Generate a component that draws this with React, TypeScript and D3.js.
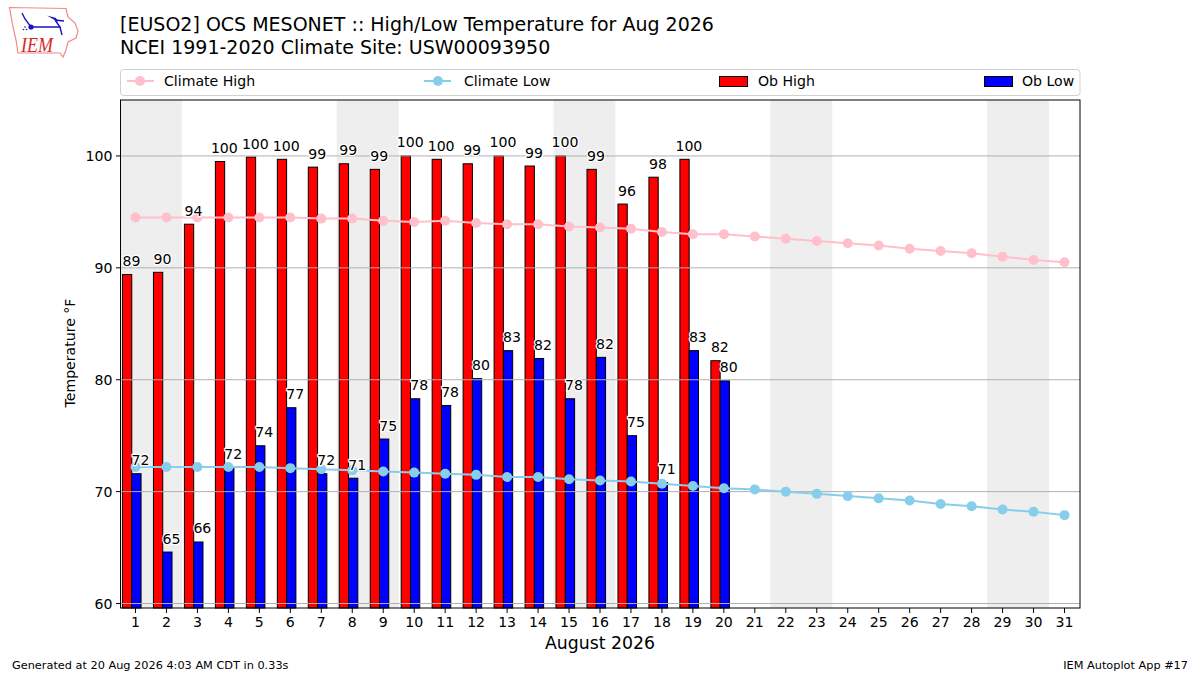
import * as d3 from 'd3';

const DAYS = d3.range(1, 32);
const OB_HIGH = [89.4, 89.6, 93.9, 99.5, 99.9, 99.7, 99.0, 99.3, 98.8, 100.0, 99.7, 99.3, 100.0, 99.1, 100.0, 98.8, 95.7, 98.1, 99.7, 81.7];
const OB_LOW = [71.6, 64.6, 65.5, 72.2, 74.1, 77.5, 71.6, 71.2, 74.7, 78.3, 77.7, 80.1, 82.6, 81.9, 78.3, 82.0, 75.0, 70.8, 82.6, 79.9];
const HIGH_LABELS = [89, 90, 94, 100, 100, 100, 99, 99, 99, 100, 100, 99, 100, 99, 100, 99, 96, 98, 100, 82];
const LOW_LABELS = [72, 65, 66, 72, 74, 77, 72, 71, 75, 78, 78, 80, 83, 82, 78, 82, 75, 71, 83, 80];
const CLIMATE_HIGH = [94.5, 94.5, 94.5, 94.5, 94.5, 94.5, 94.4, 94.4, 94.2, 94.1, 94.2, 94.0, 93.9, 93.9, 93.7, 93.6, 93.5, 93.2, 93.0, 93.0, 92.8, 92.6, 92.4, 92.2, 92.0, 91.7, 91.5, 91.3, 91.0, 90.7, 90.5];
const CLIMATE_LOW = [72.2, 72.2, 72.2, 72.2, 72.2, 72.1, 72.0, 71.9, 71.8, 71.7, 71.6, 71.5, 71.3, 71.3, 71.1, 71.0, 70.9, 70.7, 70.5, 70.3, 70.2, 70.0, 69.8, 69.6, 69.4, 69.2, 68.9, 68.7, 68.4, 68.2, 67.9];
const WEEKENDS = [[0.5, 2.5], [7.5, 9.5], [14.5, 16.5], [21.5, 23.5], [28.5, 30.5]];
const Y_TICKS = [60, 70, 80, 90, 100];

const FONT = '"DejaVu Sans", sans-serif';
const TXT = 14.1;

export default function App() {
  const left = 120.5, right = 1080, top = 100, bottom = 608;
  const x = d3.scaleLinear().domain([0.5, 31.5]).range([left - 0.5, right]);
  const y = d3.scaleLinear().domain([59.6, 105]).range([bottom, top]);
  const barW = x(1.3) - x(1);
  const line = d3.line<number>().x((_, i) => x(DAYS[i])).y(d => y(d));

  return (
    <svg width={1200} height={675} style={{ position: 'absolute', left: 0, top: 0 }} fontFamily={FONT}>
      <rect width={1200} height={675} fill="white" />

      {/* IEM logo */}
      <path d="M9.5 7.5 L66 8.5 L68 17 L75 23 L78 31 L76 38 L68 42 L66 50 L63 57 L60 53 L18 53 L16 40 L13 27 Z" fill="white" stroke="#f08a8a" strokeWidth={1.2} />
      <path d="M22 13 L25 19 L31 27 L60 27 L55 20 M55 20 L64 21 M60 27 L62 35" fill="none" stroke="#1414c8" strokeWidth={1.4} />
      <path d="M47 15.5 L56 18 L58 22 Z" fill="#1414c8" />
      <circle cx={31} cy={27} r={2.6} fill="#1414c8" />
      <circle cx={25} cy={27} r={0.8} fill="#1414c8" />
      <circle cx={23.5} cy={29.5} r={0.8} fill="#1414c8" />
      <circle cx={26.5} cy={29.5} r={0.8} fill="#1414c8" />
      <text x={21} y={52} fontSize={21} textLength={32} lengthAdjust="spacingAndGlyphs" fontFamily='"Liberation Serif", serif' fontStyle="italic" fill="#d42a2a">IEM</text>

      {/* Title */}
      <text x={120} y={31} fontSize={19} fill="black">[EUSO2] OCS MESONET :: High/Low Temperature for Aug 2026</text>
      <text x={120} y={54} fontSize={19} fill="black">NCEI 1991-2020 Climate Site: USW00093950</text>

      {/* Legend */}
      <rect x={120.5} y={69.5} width={959.5} height={26} rx={3} fill="white" stroke="#d0d0d0" />
      <line x1={127} x2={154} y1={81} y2={81} stroke="pink" strokeWidth={2} />
      <circle cx={140} cy={81} r={5} fill="pink" />
      <text x={164} y={86} fontSize={TXT}>Climate High</text>
      <line x1={424} x2={451} y1={81} y2={81} stroke="skyblue" strokeWidth={2} />
      <circle cx={438} cy={81} r={5} fill="skyblue" />
      <text x={464} y={86} fontSize={TXT}>Climate Low</text>
      <rect x={719.5} y={76.5} width={28} height={10} fill="red" stroke="black" />
      <text x={758} y={86} fontSize={TXT}>Ob High</text>
      <rect x={984.5} y={76.5} width={28} height={10} fill="blue" stroke="black" />
      <text x={1022} y={86} fontSize={TXT}>Ob Low</text>

      {/* Weekend shading */}
      {WEEKENDS.map(([a, b]) => (
        <rect key={a} x={x(a)} y={top} width={x(b) - x(a)} height={bottom - top} fill="#eeeeee" />
      ))}

      {/* Bars */}
      {OB_HIGH.map((v, i) => (
        <rect key={i} x={x(DAYS[i] - 0.42)} y={y(v)} width={barW} height={bottom - y(v)} fill="red" stroke="black" strokeWidth={1} />
      ))}
      {OB_LOW.map((v, i) => (
        <rect key={i} x={x(DAYS[i] - 0.12)} y={y(v)} width={barW} height={bottom - y(v)} fill="blue" stroke="black" strokeWidth={1} />
      ))}

      {/* Grid */}
      {Y_TICKS.map(t => (
        <line key={t} x1={left} x2={right} y1={y(t)} y2={y(t)} stroke="#b0b0b0" strokeWidth={1} />
      ))}

      {/* Climate lines */}
      <path d={line(CLIMATE_HIGH) ?? ''} fill="none" stroke="pink" strokeWidth={2} />
      {CLIMATE_HIGH.map((v, i) => <circle key={i} cx={x(DAYS[i])} cy={y(v)} r={5} fill="pink" />)}
      <path d={line(CLIMATE_LOW) ?? ''} fill="none" stroke="skyblue" strokeWidth={2} />
      {CLIMATE_LOW.map((v, i) => <circle key={i} cx={x(DAYS[i])} cy={y(v)} r={5} fill="skyblue" />)}

      {/* Value labels */}
      {OB_HIGH.map((v, i) => (
        <text key={i} x={x(DAYS[i] - 0.13)} y={y(v) - 8.5} textAnchor="middle" fontSize={TXT} stroke="white" strokeWidth={2.5} paintOrder="stroke" fill="black">
          {HIGH_LABELS[i]}
        </text>
      ))}
      {OB_LOW.map((v, i) => (
        <text key={i} x={x(DAYS[i] + 0.16)} y={y(v) - 8.5} textAnchor="middle" fontSize={TXT} stroke="white" strokeWidth={2.5} paintOrder="stroke" fill="black">
          {LOW_LABELS[i]}
        </text>
      ))}

      {/* Frame and axes */}
      <rect x={left} y={top} width={right - left} height={bottom - top} fill="none" stroke="black" strokeWidth={1} />
      {Y_TICKS.map(t => (
        <g key={t}>
          <line x1={left - 4.5} x2={left} y1={y(t)} y2={y(t)} stroke="black" />
          <text x={left - 8} y={y(t) + 5} textAnchor="end" fontSize={TXT}>{t}</text>
        </g>
      ))}
      {DAYS.map(d => (
        <g key={d}>
          <line x1={x(d)} x2={x(d)} y1={bottom} y2={bottom + 5} stroke="black" />
          <text x={x(d)} y={bottom + 19} textAnchor="middle" fontSize={TXT}>{d}</text>
        </g>
      ))}
      <text x={600} y={649} textAnchor="middle" fontSize={17.3}>August 2026</text>
      <text transform="translate(75,353) rotate(-90)" textAnchor="middle" fontSize={TXT}>Temperature °F</text>

      {/* Footer */}
      <text x={12} y={669} fontSize={11.3}>Generated at 20 Aug 2026 4:03 AM CDT in 0.33s</text>
      <text x={1188} y={669} textAnchor="end" fontSize={11.3}>IEM Autoplot App #17</text>
    </svg>
  );
}
